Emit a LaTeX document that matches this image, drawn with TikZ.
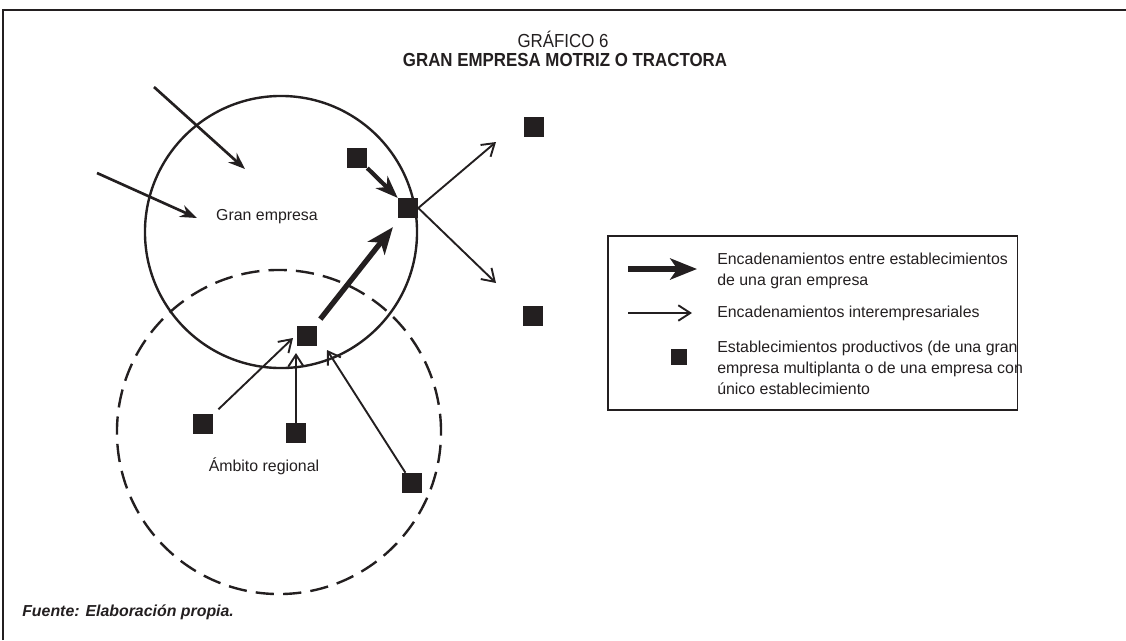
\documentclass[tikz,border=0pt]{standalone}
\usepackage{fontspec}
\setmainfont{Liberation Sans}
\usetikzlibrary{arrows.meta}
\definecolor{ink}{RGB}{35,31,32}
\begin{document}
\begin{tikzpicture}[x=0.025cm, y=-0.025cm, font=\fontsize{11.3}{15}\selectfont, color=ink]
	\tikzstyle{plant}=[rectangle, fill=ink, inner sep=0pt, minimum size=0.5cm]
	\tikzstyle{thin link}=[line width=1.35pt, -{Straight Barb[length=8.5pt,width=11pt]}]
	\tikzstyle{mid link}=[line width=1.9pt, -{Stealth[length=12pt,width=9pt,inset=4pt]}]
	\tikzstyle{firm link}=[line width=3pt, -{Stealth[length=16pt,width=12pt,inset=5pt]}]
	\tikzstyle{big link}=[line width=3.8pt, -{Stealth[length=19pt,width=15pt,inset=5pt]}]
	\tikzstyle{legend text}=[anchor=west, align=left, inner sep=0pt]
	\tikzstyle{heading}=[inner sep=0pt, font=\fontsize{12}{14}\selectfont]
	\useasboundingbox (0,0) rectangle (1126,640);
	\draw[line width=1.1pt] (3,640) -- (3,10) -- (1126,10);

	\node[heading] (num) at (563,39) {\scalebox{1}[1.12]{GRÁFICO 6}};
	\node[heading, font=\fontsize{12}{14}\selectfont\bfseries] (title) at (565,60) {\scalebox{1}[1.12]{GRAN EMPRESA MOTRIZ O TRACTORA}};

	\node[draw, circle, line width=1.7pt, minimum size=6.8cm, inner sep=0pt] (firm) at (281,232) {};
	\node[draw, circle, line width=1.7pt, minimum size=8.1cm, inner sep=0pt, dash pattern=on 13pt off 6.5pt] (region) at (279,432) {};
	\node (firmlabel) at (267,217) {Gran empresa};
	\node (regionlabel) at (264,466) {Ámbito regional};

	\node[plant] (a) at (357,158) {};
	\node[plant] (hub) at (408,208) {};
	\node[plant] (ne) at (534,127) {};
	\node[plant] (se) at (533,316) {};
	\node[plant] (mid) at (307,336) {};
	\node[plant] (lb) at (203,424) {};
	\node[plant] (cb) at (296,433) {};
	\node[plant] (rb) at (412,483) {};

	\coordinate (in1s) at (154,87);
	\coordinate (in1e) at (245,169);
	\coordinate (in2s) at (97,173);
	\coordinate (in2e) at (197,218);
	\coordinate (out1) at (496,142);
	\coordinate (out2) at (496,283);
	\coordinate (t1) at (293,338);
	\coordinate (t2) at (296,353);
	\coordinate (t3) at (327,350);

	\path
		(in1s) edge[mid link] (in1e)
		(in2s) edge[mid link] (in2e)
		(a) edge[firm link] (hub)
		(mid) edge[big link, shorten <=6pt, shorten >=8pt] (hub)
		(hub.east) edge[thin link] (out1)
		(hub.east) edge[thin link] (out2)
		(lb) edge[thin link, shorten <=5pt] (t1)
		(cb) edge[thin link] (t2)
		(rb) edge[thin link] (t3);

	\node[draw, line width=0.8pt, minimum width=10.225cm, minimum height=4.35cm] (legend) at (812.5,323) {};
	\coordinate (l1s) at (628,269);
	\coordinate (l1e) at (697,269);
	\coordinate (l2s) at (628,313);
	\coordinate (l2e) at (692,313);
	\path
		(l1s) edge[big link] (l1e)
		(l2s) edge[thin link] (l2e);
	\node[plant, minimum size=0.4cm] (lsq) at (679,357) {};
	\node[legend text] (text1) at (717,271) {Encadenamientos entre establecimientos\\de una gran empresa};
	\node[legend text] (text2) at (717,313) {Encadenamientos interempresariales};
	\node[legend text] (text3) at (717,368) {Establecimientos productivos (de una gran\\empresa multiplanta o de una empresa con\\único establecimiento};

	\node[anchor=west, inner sep=0pt, font=\fontsize{11.3}{15}\selectfont\bfseries\itshape] (source) at (22,612) {Fuente: Elaboración propia.};
\end{tikzpicture}
\end{document}
